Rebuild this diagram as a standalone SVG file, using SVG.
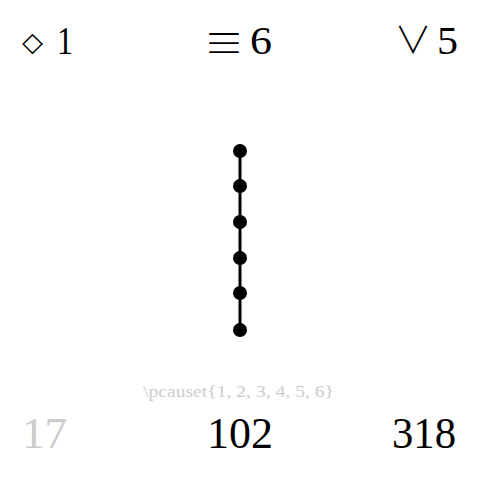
<svg xmlns="http://www.w3.org/2000/svg" width="480" height="481" viewBox="0 0 480 481">
<style>
.t{font-family:"Liberation Serif","DejaVu Serif",serif;fill:#000}
.top{font-size:40px}
.bot{font-size:44px}
.sym{font-family:"DejaVu Serif","DejaVu Sans",serif;fill:#000}
.cjk{font-family:"Noto Sans CJK JP","Noto Sans CJK SC",sans-serif;font-weight:300;fill:#000}
.g{fill:#cccccc}
.s{font-family:"Liberation Serif","DejaVu Serif",serif;font-size:17px;fill:#cccccc}
.n{fill:#000}
.e{stroke:#000;stroke-width:3}
</style>
<rect width="480" height="481" fill="#fff"/>
<text class="sym" x="22" y="51" font-size="27" textLength="21" lengthAdjust="spacingAndGlyphs">◇</text>
<text class="t top" x="57" y="54" textLength="16" lengthAdjust="spacingAndGlyphs">1</text>
<text class="cjk" x="224" y="58" font-size="40" text-anchor="middle">≡</text>
<text class="t top" x="250" y="54" textLength="22" lengthAdjust="spacingAndGlyphs">6</text>
<text class="cjk" x="413" y="54" font-size="37" text-anchor="middle">∨</text>
<text class="t top" x="437" y="54" textLength="21" lengthAdjust="spacingAndGlyphs">5</text>
<g id="connectors">
<line class="e" x1="240" y1="151" x2="240" y2="330"/>
</g>
<g id="n1"><circle class="n" cx="240" cy="151" r="7"/></g>
<g id="n2"><circle class="n" cx="240" cy="186" r="7"/></g>
<g id="n3"><circle class="n" cx="240" cy="222" r="7"/></g>
<g id="n4"><circle class="n" cx="240" cy="258" r="7"/></g>
<g id="n5"><circle class="n" cx="240" cy="293" r="7"/></g>
<g id="n6"><circle class="n" cx="240" cy="330" r="7"/></g>
<text class="s" x="143" y="397" textLength="191" lengthAdjust="spacingAndGlyphs">\pcauset{1, 2, 3, 4, 5, 6}</text>
<text class="t bot g" x="22" y="448" textLength="45" lengthAdjust="spacingAndGlyphs">17</text>
<text class="t bot" x="207" y="448" textLength="66" lengthAdjust="spacingAndGlyphs">102</text>
<text class="t bot" x="392" y="448" textLength="64" lengthAdjust="spacingAndGlyphs">318</text>
</svg>
